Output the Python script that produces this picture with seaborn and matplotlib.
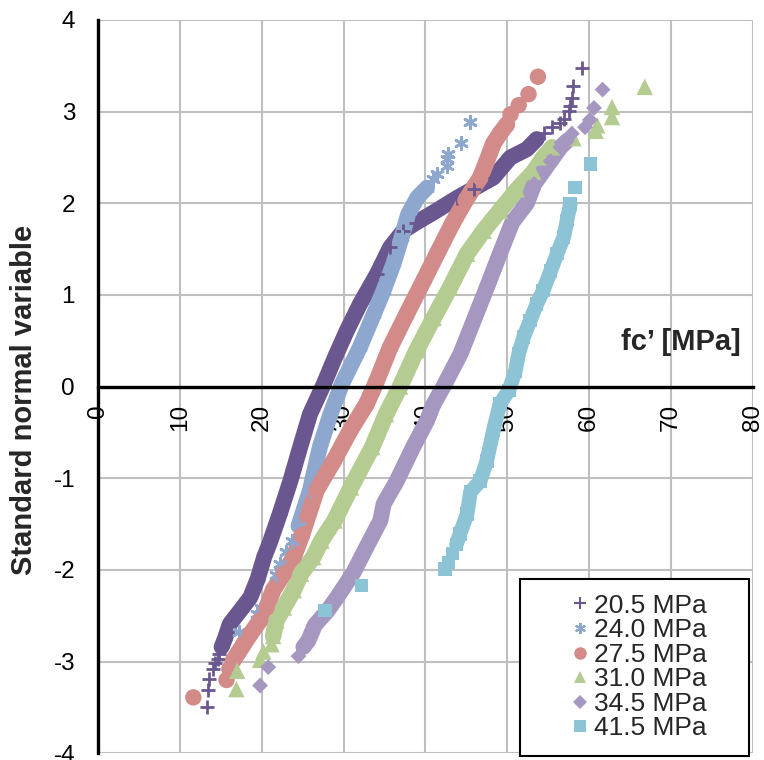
"""Normal probability plot of concrete strength fc' for six design classes."""

import matplotlib
matplotlib.use("Agg")
import matplotlib.pyplot as plt
import seaborn as sns
from matplotlib.lines import Line2D
from matplotlib.patches import Rectangle

# ---- data (x = fc' [MPa], z = standard normal variable)
# each class: isolated tail points plus the dense band traced through its centre

# 20.5 MPa
c205_tail_x = [13.3, 13.4, 13.6, 14.1, 14.3, 14.6, 14.8,
               54.5, 55.5, 56.5, 56.9, 57.5, 57.7, 57.9, 58.0, 59.1]
c205_tail_z = [-3.49, -3.31, -3.19, -3.08, -3.02, -2.97, -2.92,
               2.77, 2.83, 2.88, 2.92, 3.01, 3.06, 3.15, 3.28, 3.48]
c205_band_x = [15.1, 15.5, 16.1, 17.4, 18.6, 19.5, 20.3, 21.0, 22.2, 23.5, 24.7,
               25.9, 27.6, 29.0, 30.4, 32.0, 34.1, 35.7, 37.3, 38.9, 41.0, 43.9,
               45.9, 48.3, 50.4, 52.4, 53.6]
c205_band_z = [-2.84, -2.75, -2.59, -2.44, -2.30, -2.10, -1.86, -1.70, -1.39, -1.03, -0.66,
               -0.30, 0.03, 0.33, 0.61, 0.90, 1.23, 1.52, 1.70, 1.79, 1.90, 2.06,
               2.16, 2.28, 2.50, 2.59, 2.70]

# 24.0 MPa
c240_tail_x = [17.2, 19.4, 19.9, 21.8, 22.2, 23.0, 23.7,
               40.9, 41.4, 42.6, 42.6, 42.8, 44.3, 45.4]
c240_tail_z = [-2.68, -2.48, -2.41, -2.06, -1.94, -1.80, -1.68,
               2.26, 2.32, 2.41, 2.48, 2.54, 2.66, 2.89]
c240_band_x = [24.5, 25.9, 27.1, 28.4, 29.8, 32.0, 33.7, 34.9, 36.1, 37.1, 37.9, 39.0, 40.2]
c240_band_z = [-1.52, -1.13, -0.66, -0.30, 0.03, 0.43, 0.79, 1.05, 1.34, 1.63, 1.88, 2.06, 2.17]

# 27.5 MPa
c275_tail_x = [11.65, 15.7, 16.05, 50.4, 51.4, 52.6, 53.75]
c275_tail_z = [-3.39, -3.20, -3.08, 2.97, 3.07, 3.19, 3.38]
c275_band_x = [16.5, 17.15, 17.8, 18.6, 19.8, 20.6, 21.4, 22.7, 23.9, 24.9, 26.7, 28.8,
               30.8, 32.8, 33.9, 35.7, 37.7, 39.8, 41.6, 43.3, 44.9, 46.7, 47.5, 48.3,
               49.1, 49.95]
c275_band_z = [-2.99, -2.90, -2.81, -2.70, -2.55, -2.41, -2.22, -2.04, -1.86, -1.62, -1.13, -0.81,
               -0.48, -0.19, 0.03, 0.43, 0.79, 1.16, 1.48, 1.78, 2.03, 2.28, 2.46, 2.65,
               2.76, 2.86]

# 31.0 MPa
c310_tail_x = [16.9, 17.0, 19.8, 20.2, 21.2, 58.1, 60.8, 61.0, 62.8, 62.8, 66.8]
c310_tail_z = [-3.30, -3.10, -2.98, -2.89, -2.81, 2.71, 2.79, 2.85, 2.94, 3.05, 3.27]
c310_band_x = [21.4, 21.8, 22.7, 23.9, 24.8, 26.3, 27.3, 28.9, 30.9, 33.5, 35.2, 36.9,
               38.95, 41.0, 43.0, 45.1, 47.1, 49.1, 51.2, 53.2, 54.4, 55.5]
c310_band_z = [-2.72, -2.55, -2.41, -2.22, -2.04, -1.86, -1.68, -1.46, -1.10, -0.66, -0.30, 0.0,
               0.40, 0.75, 1.08, 1.45, 1.70, 1.92, 2.15, 2.34, 2.50, 2.61]

# 34.5 MPa
c345_tail_x = [19.8, 20.8, 24.5, 57.9, 59.5, 60.1, 60.6, 61.65]
c345_tail_z = [-3.26, -3.06, -2.94, 2.76, 2.83, 2.91, 3.04, 3.24]
c345_band_x = [25.1, 25.7, 26.5, 28.0, 29.2, 31.2, 32.8, 34.5, 34.9, 36.5, 38.5, 40.2,
               41.0, 42.2, 44.3, 45.9, 47.5, 49.1, 50.6, 52.4, 53.3, 55.3, 56.5, 57.3]
c345_band_z = [-2.84, -2.77, -2.60, -2.45, -2.30, -2.03, -1.75, -1.46, -1.28, -1.03, -0.66, -0.37,
               -0.19, 0.0, 0.36, 0.72, 1.08, 1.45, 1.79, 2.00, 2.21, 2.46, 2.61, 2.68]

# 41.5 MPa
c415_tail_x = [27.75, 32.2, 42.4, 42.8, 43.3, 58.3, 60.2]
c415_tail_z = [-2.44, -2.17, -1.99, -1.92, -1.82, 2.17, 2.43]
c415_band_x = [43.8, 44.2, 45.1, 45.5, 46.7, 47.5, 48.3, 49.1, 50.2, 51.0, 51.4, 52.0,
               52.8, 53.6, 54.4, 55.3, 56.1, 56.9, 57.3, 57.7]
c415_band_z = [-1.72, -1.61, -1.39, -1.15, -1.03, -0.81, -0.48, -0.19, -0.04, 0.17, 0.36, 0.54,
               0.72, 0.90, 1.05, 1.26, 1.45, 1.63, 1.81, 1.99]

labels = ["20.5 MPa", "24.0 MPa", "27.5 MPa", "31.0 MPa", "34.5 MPa", "41.5 MPa"]
colors = ["#6B578F", "#8DA7CE", "#D38B8A", "#B4CB91", "#A597BF", "#8CC3D5"]
markers = ["+", (6, 2, 0), "o", "^", "D", "s"]
marker_sizes = [90, 80, 140, 140, 65, 95]
band_widths = [11.5, 11.5, 12, 12, 11.5, 10.5]

x_ticks = list(range(0, 81, 10))
y_ticks = list(range(-4, 5))


def main():
    sns.set_style("white")
    plt.rcParams["font.family"] = ["Liberation Sans", "DejaVu Sans"]
    plt.rcParams["axes.unicode_minus"] = False

    fig = plt.figure(figsize=(7.64, 7.60), dpi=100)
    ax = fig.add_axes([0.1283, 0.0088, 0.857, 0.965])

    tails = [(c205_tail_x, c205_tail_z), (c240_tail_x, c240_tail_z),
             (c275_tail_x, c275_tail_z), (c310_tail_x, c310_tail_z),
             (c345_tail_x, c345_tail_z), (c415_tail_x, c415_tail_z)]
    bands = [(c205_band_x, c205_band_z), (c240_band_x, c240_band_z),
             (c275_band_x, c275_band_z), (c310_band_x, c310_band_z),
             (c345_band_x, c345_band_z), (c415_band_x, c415_band_z)]

    for i in range(len(labels)):
        bx, bz = bands[i]
        tx, tz = tails[i]
        ax.plot(bx, bz, color=colors[i], linewidth=band_widths[i],
                solid_capstyle="round", solid_joinstyle="round", zorder=2)
        unfilled = markers[i] == "+" or isinstance(markers[i], tuple)
        for xs, zs in ((bx, bz), (tx, tz)):
            if unfilled:
                ax.scatter(xs, zs, marker=markers[i], s=marker_sizes[i],
                           color=colors[i], linewidths=2, zorder=3)
            else:
                sns.scatterplot(x=xs, y=zs, marker=markers[i], s=marker_sizes[i],
                                color=colors[i], edgecolor="none", ax=ax, zorder=3)

    ax.set_xlim(0, 80)
    ax.set_ylim(-4, 4)
    ax.set_xticks(x_ticks)
    ax.set_yticks(y_ticks)
    ax.grid(True, color="#BFBFBF", linewidth=1.5)
    ax.set_axisbelow(True)

    ax.spines["top"].set_visible(False)
    ax.spines["right"].set_visible(False)
    ax.spines["bottom"].set_position(("data", 0))
    for side in ("left", "bottom"):
        ax.spines[side].set_color("black")
        ax.spines[side].set_linewidth(2.4)
        ax.spines[side].set_zorder(4)

    ax.tick_params(axis="both", direction="inout", length=11, width=2.4,
                   colors="black", labelsize=17.5)
    ax.tick_params(axis="y", pad=11)
    ax.tick_params(axis="x", pad=7, labelrotation=90)

    ax.set_ylabel("Standard normal variable", fontsize=21, fontweight="bold")
    ax.yaxis.set_label_coords(-0.113, 0.482)
    ax.yaxis.label.set_verticalalignment("center")
    ax.text(78.5, 0.49, "fc\u2019 [MPa]", fontsize=21, fontweight="bold",
            ha="right", va="center")

    # legend box (Excel style, wider than its content)
    box = Rectangle((520 / 764, 4 / 760), 229 / 764, 177 / 760,
                    transform=fig.transFigure, facecolor="white",
                    edgecolor="black", linewidth=1.5, clip_on=False, zorder=5)
    ax.add_patch(box)
    handles = []
    leg_sizes = [9, 8, 9, 9, 7, 8.5]
    for i in range(len(labels)):
        unfilled = markers[i] == "+" or isinstance(markers[i], tuple)
        handles.append(Line2D([0], [0], linestyle="", marker=markers[i],
                              markersize=leg_sizes[i], color=colors[i],
                              markeredgewidth=1.5 if unfilled else 0))
    leg = ax.legend(handles, labels, loc="center", frameon=False,
                    bbox_to_anchor=(640 / 764, 1 - 667 / 760),
                    bbox_transform=fig.transFigure, fontsize=19,
                    handlelength=0.5, handletextpad=0.3, labelspacing=0.02,
                    borderpad=0)
    leg.set_zorder(6)

    fig.savefig("out.png", dpi=100)
    plt.close(fig)


if __name__ == "__main__":
    main()
